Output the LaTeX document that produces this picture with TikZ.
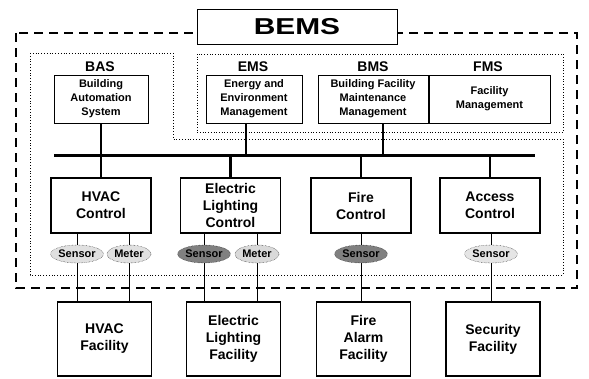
\documentclass[tikz,border=0pt]{standalone}
\usepackage{fontspec}
\setmainfont{Liberation Sans}
\usetikzlibrary{shapes.geometric}
\begin{document}
\begin{tikzpicture}[
    x=1pt, y=-1pt,
    font=\bfseries,
    box/.style={draw=black, line width=1pt, align=center, inner sep=0pt},
    ctrl/.style={box, line width=1.3pt, minimum width=100pt, minimum height=55pt,
      font=\fontsize{14}{17}\selectfont\bfseries},
    fac/.style={box, line width=1.5pt, minimum width=94pt, minimum height=74pt,
      font=\fontsize{14}{17}\selectfont\bfseries},
    sub/.style={box, minimum height=48pt, font=\fontsize{11}{14}\selectfont\bfseries},
    lab/.style={font=\fontsize{14}{16}\selectfont\bfseries},
    dev/.style={ellipse, draw=black, densely dotted, minimum width=44pt, minimum height=18pt,
      inner sep=0pt, font=\fontsize{11}{12}\selectfont\bfseries},
    bus/.style={line width=2.5pt},
    wire/.style={line width=0.8pt}
  ]
    \useasboundingbox (0,0) rectangle (589,378);

    % system borders
    \draw[line width=1.6pt, dash pattern=on 9pt off 6pt] (16,33) rectangle (577,288);
    \draw[dotted, line width=0.8pt] (30,53) -- (173,53) -- (173,139) -- (563,139)
      -- (563,275) -- (30,275) -- cycle;
    \draw[dotted, line width=0.7pt] (197,54) rectangle (563,132);
    \node[draw, line width=1pt, fill=white, minimum width=200pt, minimum height=35pt]
      (bems) at (297,26.5) {\fontsize{23}{23}\selectfont\scalebox{1.3}[1]{BEMS}};

    % management systems
    \node[lab] (baslab) at (100,67) {BAS};
    \node[sub, minimum width=94pt] (bas) at (101,99) {Building\\Automation\\System};
    \node[lab] (emslab) at (253,67) {EMS};
    \node[sub, minimum width=96pt] (ems) at (254,99) {Energy and\\Environment\\Management};
    \node[lab] (bmslab) at (373,67) {BMS};
    \node[sub, minimum width=110pt] (bms) at (373,99) {Building Facility\\Maintenance\\Management};
    \node[lab] (fmslab) at (488,67) {FMS};
    \node[sub, minimum width=121pt, anchor=west] (fms) at (bms.east) {Facility\\Management};

    % bus
    \coordinate (busw) at (54,155);
    \coordinate (buse) at (535,155);
    \coordinate (tapems) at (246,155);
    \coordinate (tapbms) at (383,155);
    \draw[line width=3pt] (busw) -- (buse);

    % controls
    \node[ctrl] (hvac) at (101,205.5) {HVAC\\Control};
    \node[ctrl] (elc) at (230.5,205.5) {Electric\\Lighting\\Control};
    \node[ctrl] (firec) at (361,205.5) {Fire\\Control};
    \node[ctrl] (acc) at (490,205.5) {Access\\Control};

    \draw[bus] (bas.south) -- (hvac.north);
    \draw[bus] (tapems |- ems.south) -- (tapems);
    \draw[bus] (tapbms |- bms.south) -- (tapbms);
    \foreach \n in {elc,firec,acc}
      \draw[bus] (\n.north |- busw) -- (\n.north);

    % sensors and meters
    \node[dev, fill=black!12] (s1) at (77,254) {Sensor};
    \node[dev, fill=black!12] (m1) at (129,254) {Meter};
    \node[dev, fill=black!50] (s2) at (204,254) {Sensor};
    \node[dev, fill=black!15] (m2) at (257,254) {Meter};
    \node[dev, fill=black!50] (s3) at (361,254) {Sensor};
    \node[dev, fill=black!10] (s4) at (491,254) {Sensor};

    % facilities
    \node[fac] (hvacf) at (104.5,339) {HVAC\\Facility};
    \node[fac] (elf) at (233.5,339) {Electric\\Lighting\\Facility};
    \node[fac] (firef) at (363.5,339) {Fire\\Alarm\\Facility};
    \node[fac] (secf) at (493,339) {Security\\Facility};

    \foreach \d/\c/\f in {s1/hvac/hvacf, m1/hvac/hvacf, s2/elc/elf, m2/elc/elf,
                          s3/firec/firef, s4/acc/secf}
      \draw[wire] (\d.north |- \c.south) -- (\d.north) (\d.south) -- (\d.south |- \f.north);
  \end{tikzpicture}
\end{document}
